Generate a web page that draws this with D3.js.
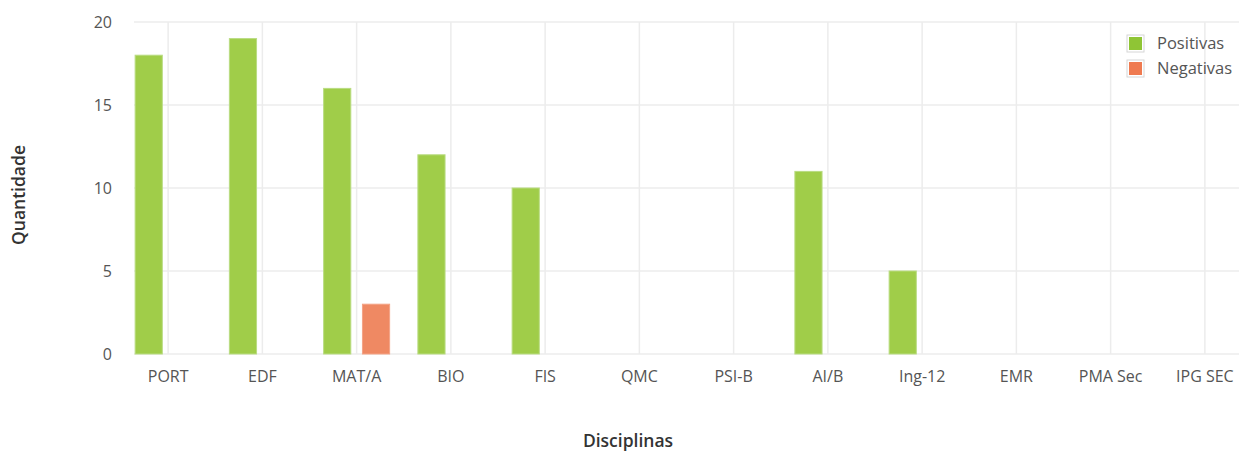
<!DOCTYPE html>
<html>
<head>
<meta charset="utf-8">
<script src="https://cdnjs.cloudflare.com/ajax/libs/d3/7.8.5/d3.min.js"></script>
<style>
body{margin:0;background:#fff;}
svg text{font-family:"Open Sans",sans-serif;}
</style>
</head>
<body>
<svg width="1239" height="453"></svg>
<script>
var categories = ['PORT','EDF','MAT/A','BIO','FIS','QMC','PSI-B','AI/B','Ing-12','EMR','PMA Sec','IPG SEC'];
var positivas = [18,19,16,12,10,0,0,11,5,0,0,0];
var negativas = [0,0,3,0,0,0,0,0,0,0,0,0];
var yTicks = [0,5,10,15,20];
var seriesNames = ['Positivas','Negativas'];
var seriesColors = ['#a0cd49','#ef8963'];
var seriesBorders = ['#b9dc82','#f4a386'];

var svg = d3.select('svg');
var plotLeft = 134, plotRight = 1239, plotTop = 22, plotBottom = 354;

var x = d3.scaleBand().domain(categories).range([121, 1252]);
var y = d3.scaleLinear().domain([0,20]).range([plotBottom, plotTop]);
var inner = d3.scaleBand().domain(seriesNames).range([-33, 33]).paddingInner(0.3);

// horizontal grid
svg.append('g').selectAll('line').data(yTicks).enter().append('line')
	.attr('x1', plotLeft).attr('x2', plotRight)
	.attr('y1', d => y(d)).attr('y2', d => y(d))
	.style('stroke','#ececec').style('stroke-width',1.5);

// vertical grid at category centers
svg.append('g').selectAll('line').data(categories).enter().append('line')
	.attr('x1', d => x(d) + x.bandwidth()/2).attr('x2', d => x(d) + x.bandwidth()/2)
	.attr('y1', plotTop).attr('y2', plotBottom)
	.style('stroke','#ececec').style('stroke-width',1.5);

// y axis labels
var yAxis = d3.axisLeft(y).tickValues(yTicks).tickSize(0).tickPadding(0);
var yg = svg.append('g').attr('transform','translate(112,0)').call(yAxis);
yg.select('.domain').remove();
yg.selectAll('text').style('font-size','16px').style('fill','#555').attr('dy','0.32em');

// x axis labels
var xAxis = d3.axisBottom(x).tickSize(0).tickPadding(0);
var xg = svg.append('g').attr('transform','translate(0,371)').call(xAxis);
xg.select('.domain').remove();
xg.selectAll('text').style('font-size','16px').style('fill','#555').attr('dy','0.71em');

// bars
var seriesData = [positivas, negativas];
seriesData.forEach(function(vals, s){
	svg.append('g').selectAll('rect').data(vals.map((v,i) => ({cat: categories[i], v: v})).filter(d => d.v > 0))
		.enter().append('rect')
		.attr('x', d => x(d.cat) + x.bandwidth()/2 + inner(seriesNames[s]))
		.attr('width', inner.bandwidth())
		.attr('y', d => y(d.v))
		.attr('height', d => y(0) - y(d.v))
		.style('fill', seriesColors[s])
		.style('stroke', seriesBorders[s])
		.style('stroke-width', 1);
});

// axis titles
svg.append('text').attr('x', 628).attr('y', 447).attr('text-anchor','middle')
	.style('font-size','17.5px').style('font-weight','600').style('fill','#333').text('Disciplinas');
svg.append('text').attr('transform','translate(25,195) rotate(-90)').attr('text-anchor','middle')
	.style('font-size','17.5px').style('font-weight','600').style('fill','#333').text('Quantidade');

// legend
var legend = svg.append('g').attr('transform','translate(1127,35)');
seriesNames.forEach(function(name, i){
	var g = legend.append('g').attr('transform','translate(0,' + (i*25) + ')');
	g.append('rect').attr('x',0).attr('y',0).attr('width',17).attr('height',17)
		.style('fill','#fff').style('stroke','#d6d6d6').style('stroke-width',1);
	g.append('rect').attr('x',2).attr('y',2).attr('width',13).attr('height',13)
		.style('fill', i == 0 ? '#8fc535' : '#ef7a50');
	g.append('text').attr('x',30).attr('y',8).attr('dy','0.35em')
		.style('font-size','16.5px').style('fill','#555').text(name);
});
</script>
</body>
</html>
